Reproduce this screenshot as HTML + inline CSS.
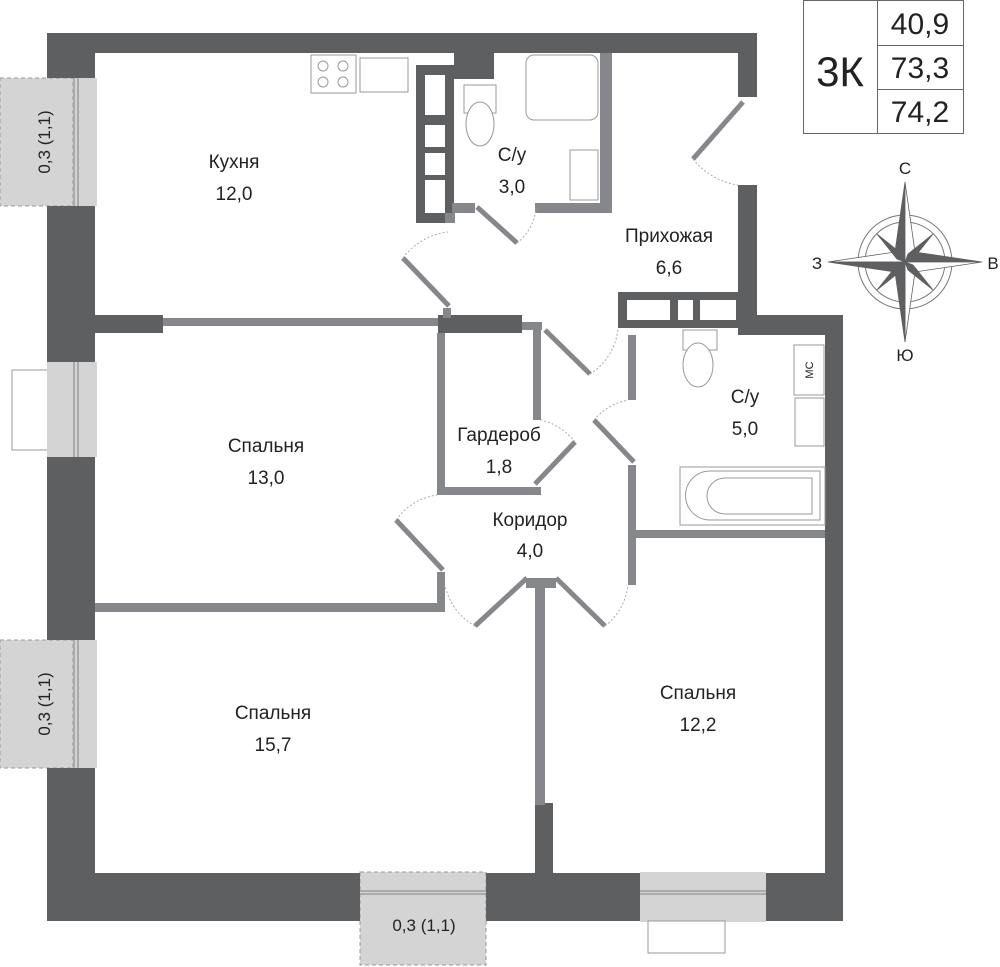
<!DOCTYPE html>
<html><head><meta charset="utf-8"><style>html,body{margin:0;padding:0;background:#fff}svg{display:block}text{font-family:"Liberation Sans",sans-serif;fill:#222}</style></head><body>
<svg width="1000" height="967" viewBox="0 0 1000 967" xmlns="http://www.w3.org/2000/svg">
<!-- windows (under walls) -->
<g fill="#d4d4d5" stroke="#999" stroke-width="1">
<rect x="0" y="78" width="73" height="128" stroke-dasharray="4,3"/>
<rect x="73" y="78" width="24" height="128" stroke="none"/>
<rect x="12" y="370" width="40" height="80" fill="#fff"/>
<rect x="47" y="362" width="50" height="95" stroke="none"/>
<rect x="0" y="640" width="73" height="128" stroke-dasharray="4,3"/>
<rect x="73" y="640" width="24" height="128" stroke="none"/>
<rect x="360" y="872" width="126" height="93" stroke-dasharray="4,3"/>
<rect x="640" y="872" width="126" height="50" stroke="none"/>
<rect x="648" y="921" width="77" height="32" fill="#fff"/>
</g>
<g stroke="#aaa" stroke-width="2" fill="none">
<line x1="74" y1="78" x2="74" y2="206"/><line x1="78" y1="78" x2="78" y2="206"/>
<line x1="74" y1="362" x2="74" y2="457"/><line x1="78" y1="362" x2="78" y2="457"/>
<line x1="74" y1="640" x2="74" y2="768"/><line x1="78" y1="640" x2="78" y2="768"/>
<line x1="358" y1="891" x2="490" y2="891"/><line x1="358" y1="894" x2="490" y2="894"/>
<line x1="638" y1="891" x2="768" y2="891"/><line x1="638" y1="894" x2="768" y2="894"/>
</g>
<!-- outer walls -->
<g fill="#5e5f61">
<rect x="47" y="33" width="710" height="20"/>
<rect x="47" y="33" width="48" height="45"/>
<rect x="47" y="206" width="48" height="156"/>
<rect x="47" y="457" width="48" height="183"/>
<rect x="47" y="768" width="48" height="153"/>
<rect x="47" y="873" width="313" height="48"/>
<rect x="486" y="873" width="154" height="48"/>
<rect x="766" y="873" width="77" height="48"/>
<rect x="738" y="33" width="19" height="64"/>
<rect x="738" y="185" width="19" height="150"/>
<rect x="738" y="315" width="105" height="20"/>
<rect x="825" y="315" width="18" height="606"/>
<rect x="95" y="315" width="68" height="18"/>
<rect x="438" y="315" width="84" height="18"/>
<rect x="535" y="803" width="18" height="72"/>
<rect x="416" y="65" width="38" height="158"/>
<rect x="618" y="292" width="122" height="36"/>
<rect x="454" y="53" width="40" height="26"/>
</g>
<!-- shaft inner -->
<g fill="#fff">
<rect x="425" y="75" width="20" height="40"/><rect x="425" y="125" width="20" height="22"/><rect x="425" y="153" width="20" height="22"/><rect x="425" y="180" width="20" height="33"/>
<rect x="627" y="300" width="43" height="20"/><rect x="678" y="300" width="15" height="20"/><rect x="700" y="300" width="36" height="20"/>
</g>
<!-- inner walls -->
<g fill="#86878a">
<rect x="163" y="318" width="275" height="8"/>
<rect x="522" y="322" width="20" height="8"/>
<rect x="437" y="333" width="8" height="162"/>
<rect x="437" y="487" width="104" height="8"/>
<rect x="533" y="322" width="8" height="98"/>
<rect x="95" y="603" width="350" height="9"/>
<rect x="437" y="572" width="8" height="40"/>
<rect x="628" y="335" width="8" height="65"/>
<rect x="628" y="465" width="8" height="120"/>
<rect x="636" y="530" width="189" height="8"/>
<rect x="526" y="578" width="30" height="10"/>
<rect x="535" y="585" width="10" height="220"/>
<rect x="600" y="53" width="12" height="160"/>
<rect x="535" y="203" width="77" height="10"/>
<rect x="452" y="203" width="23" height="10"/>
<rect x="445" y="213" width="10" height="10"/>
<rect x="443" y="308" width="8" height="10"/>
</g>
<!-- door leaves -->
<g stroke="#86878a" stroke-width="5" fill="none">
<line x1="403" y1="258" x2="449" y2="306"/>
<line x1="477" y1="207" x2="517" y2="243"/>
<line x1="743" y1="102" x2="693" y2="159"/>
<line x1="545" y1="330" x2="590" y2="374"/>
<line x1="575" y1="442" x2="535" y2="484"/>
<line x1="594" y1="420" x2="634" y2="462"/>
<line x1="396" y1="520" x2="443" y2="570"/>
<line x1="475" y1="626" x2="527" y2="578"/>
<line x1="556" y1="578" x2="605" y2="626"/>
</g>
<g stroke="#aaa" stroke-width="1" fill="none" stroke-dasharray="2,2">
<path d="M403 258 A65 65 0 0 1 448 232"/>
<path d="M517 243 A50 50 0 0 0 536 208"/>
<path d="M693 159 A70 70 0 0 0 738 185"/>
<path d="M590 374 A60 60 0 0 0 618 328"/>
<path d="M575 442 A60 60 0 0 0 541 420"/>
<path d="M594 420 A60 60 0 0 1 628 400"/>
<path d="M396 520 A60 60 0 0 1 437 495"/>
<path d="M475 626 A60 60 0 0 1 445 585"/>
<path d="M605 626 A60 60 0 0 0 628 585"/>
</g>
<!-- fixtures -->
<g stroke="#999" stroke-width="1" fill="#fff">
<rect x="311" y="55" width="45" height="38"/>
<circle cx="323" cy="66" r="5"/><circle cx="343" cy="66" r="5"/><circle cx="323" cy="82" r="5"/><circle cx="343" cy="82" r="5"/>
<rect x="360" y="58" width="48" height="34"/>
<rect x="464" y="85" width="32" height="28"/>
<ellipse cx="480" cy="124" rx="14" ry="22"/>
<rect x="526" y="55" width="72" height="65" rx="8"/>
<rect x="570" y="150" width="28" height="50"/>
<rect x="683" y="330" width="34" height="20"/>
<ellipse cx="698" cy="365" rx="15" ry="22"/>
<rect x="794" y="345" width="30" height="50"/>
<rect x="795" y="398" width="29" height="48"/>
<rect x="680" y="467" width="145" height="58"/>
<path d="M710 471 H820 V520 H710 A24 24 0 0 1 710 471Z"/>
<path d="M725 478 H812 V514 H725 A18 18 0 0 1 725 478Z"/>
</g>
<text x="813" y="370" font-size="11" fill="#666" transform="rotate(-90 813 370)" text-anchor="middle">МС</text>
<!-- room labels -->
<g font-size="19" text-anchor="middle">
<text x="234" y="168">Кухня</text><text x="234" y="200">12,0</text>
<text x="512" y="161">С/у</text><text x="512" y="193">3,0</text>
<text x="669" y="242">Прихожая</text><text x="669" y="274">6,6</text>
<text x="266" y="452">Спальня</text><text x="266" y="484">13,0</text>
<text x="499" y="441">Гардероб</text><text x="499" y="473">1,8</text>
<text x="530" y="526">Коридор</text><text x="530" y="557">4,0</text>
<text x="745" y="403">С/у</text><text x="745" y="435">5,0</text>
<text x="273" y="719">Спальня</text><text x="273" y="751">15,7</text>
<text x="698" y="699">Спальня</text><text x="698" y="731">12,2</text>
</g>
<g font-size="17" text-anchor="middle">
<text x="50" y="142" transform="rotate(-90 50 142)">0,3 (1,1)</text>
<text x="50" y="704" transform="rotate(-90 50 704)">0,3 (1,1)</text>
<text x="424" y="931">0,3 (1,1)</text>
</g>
<!-- info box -->
<g stroke="#666" stroke-width="1" fill="none">
<rect x="803.5" y="0.5" width="160" height="133"/>
<line x1="877.5" y1="0" x2="877.5" y2="133"/>
<line x1="877" y1="45.5" x2="963" y2="45.5"/>
<line x1="877" y1="89.5" x2="963" y2="89.5"/>
</g>
<text x="840" y="86" font-size="42" text-anchor="middle">3К</text>
<g font-size="30" text-anchor="middle"><text x="920" y="34">40,9</text><text x="920" y="78">73,3</text><text x="920" y="122">74,2</text></g>
<!-- compass -->
<g transform="translate(905,262)">
<circle r="47" fill="none" stroke="#777" stroke-width="1"/>
<circle r="40" fill="none" stroke="#777" stroke-width="1"/>
<g fill="#5e5f61" stroke="#5e5f61" stroke-width="0.8">
<path d="M0 0 L-10 -10 L0 -80Z"/><path d="M0 0 L10 10 L0 80Z" fill="#fff"/><path d="M0 0 L-10 10 L0 80Z"/><path d="M0 0 L10 -10 L0 -80Z" fill="#fff"/>
<path d="M0 0 L10 -10 L77 0Z"/><path d="M0 0 L10 10 L77 0Z" fill="#fff"/><path d="M0 0 L-10 -10 L-77 0Z" fill="#fff"/><path d="M0 0 L-10 10 L-77 0Z"/>
<path d="M0 0 L-8 -3 L-28 -28 L-3 -8Z"/><path d="M0 0 L8 -3 L28 -28 L3 -8Z"/><path d="M0 0 L-8 3 L-28 28 L-3 8Z"/><path d="M0 0 L8 3 L28 28 L3 8Z"/>
</g>
</g>
<g font-size="17" text-anchor="middle" fill="#444">
<text x="905" y="174">С</text><text x="817" y="269">З</text><text x="993" y="269">В</text><text x="905" y="361">Ю</text>
</g>
</svg>
</body></html>
